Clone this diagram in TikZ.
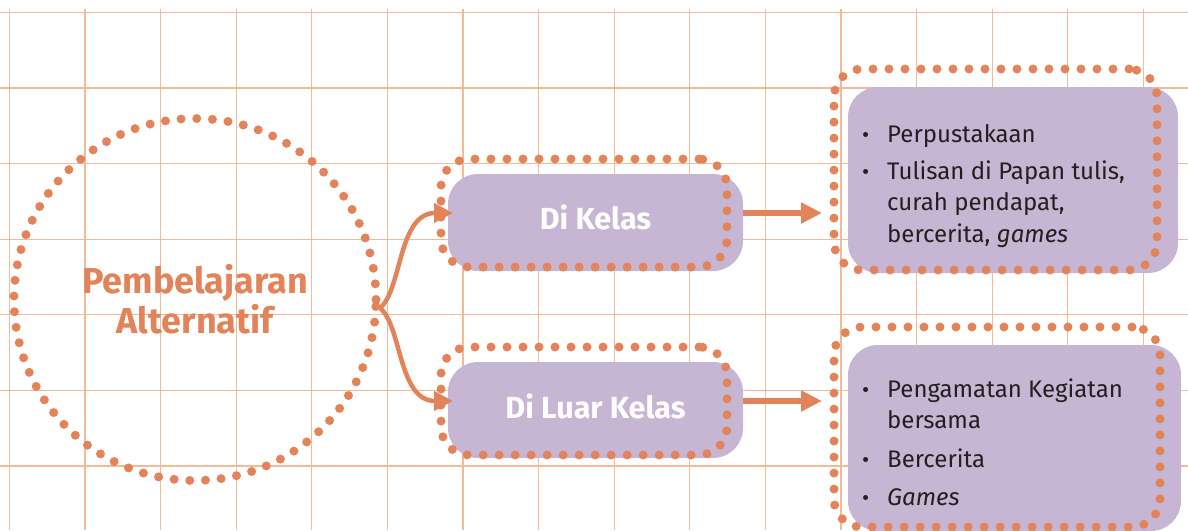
\documentclass[tikz,border=0pt]{standalone}
\usepackage{fontspec}
\setmainfont{Fira Sans}
\usetikzlibrary{positioning, arrows.meta, calc}
\definecolor{gridline}{HTML}{F2BA96}
\definecolor{dotorange}{HTML}{E2835A}
\definecolor{boxlilac}{HTML}{C6B6D3}
\definecolor{inkdark}{HTML}{231F20}
\newcommand{\dotmark}{{\fontsize{22}{22}\selectfont\textbullet}}

\begin{document}
\begin{tikzpicture}[x=1pt, y=-1pt,
    % Node styles
    hub/.style={circle, draw=dotorange, line width=9pt, line cap=round, dash pattern=on 0pt off 15.7pt, minimum size=362pt, inner sep=0pt, outer sep=0pt, text=dotorange, align=center, font=\bfseries\fontsize{36}{40}\selectfont},
    place/.style={rectangle, rounded corners=30pt, fill=boxlilac, inner sep=0pt, outer sep=0pt},
    rim/.style={rectangle, rounded corners=28pt, draw=dotorange, line width=9pt, line cap=round, dash pattern=on 0pt off 16pt, inner sep=0pt, outer sep=0pt},
    tagtext/.style={text=white, font=\bfseries\fontsize{30.5}{34}\selectfont},
    notes/.style={text=inkdark, inner sep=0pt, anchor=north west, font=\fontsize{24}{31.5}\selectfont},
    % Edge styles
    branch/.style={-{Triangle[length=19pt, width=19pt]}, line width=4.5pt, draw=dotorange},
    flow/.style={-{Triangle[length=21pt, width=20pt]}, line width=5.5pt, draw=dotorange}
]
\useasboundingbox (0,0) rectangle (1188,530);
% Grid
\foreach \k in {0,...,15}
  \draw[gridline, line width=1.2pt] (9.3+75.6*\k, 9) -- (9.3+75.6*\k, 530);
\foreach \k in {0,...,6}
  \draw[gridline, line width=1.2pt] (0, 12.3+75.6*\k) -- (1188, 12.3+75.6*\k);
% Centre circle
\node[hub] (core) at (195, 299.5) {Pembelajaran\\Alternatif};
% Place boxes
\node[place, minimum width=295pt, minimum height=97pt] (kelas) at (595.5, 222.5) {};
\node[place, minimum width=295pt, minimum height=96pt] (luar) at (595.5, 410) {};
\node[place, minimum width=330pt, minimum height=186pt] (ket) at (1013, 180) {};
\node[place, minimum width=333pt, minimum height=186pt] (luarket) at (1014.5, 438) {};
% Dotted rims
\node[rim, minimum width=286pt, minimum height=108pt] (kelasrim) at (584, 213) {};
\node[rim, minimum width=286pt, minimum height=108pt] (luarrim) at (584, 401) {};
\node[rim, minimum width=323pt, minimum height=201pt] (ketrim) at (995.5, 169.5) {};
\node[rim, minimum width=326pt, minimum height=200pt] (luarketrim) at (997, 427) {};
% Labels
\node[tagtext] (kelastext) at ([yshift=5pt]kelas.center) {Di Kelas};
\node[tagtext] (luartext) at ([yshift=4pt]luar.center) {Di Luar Kelas};
\node[notes] (ketlist) at (862, 120) {\begin{tabular}{@{}p{25pt}@{}l@{}}
  \dotmark & Perpustakaan\\[5.5pt]
  \dotmark & Tulisan di Papan tulis,\\
           & curah pendapat,\\
           & bercerita, \textit{games}
\end{tabular}};
\node[notes] (luarketlist) at (862, 375) {\begin{tabular}{@{}p{25pt}@{}l@{}}
  \dotmark & Pengamatan Kegiatan\\
           & bersama\\[7pt]
  \dotmark & Bercerita\\[7pt]
  \dotmark & \textit{Games}
\end{tabular}};
% Connectors
\coordinate (fork) at (380, 308);
\draw[branch] (fork) .. controls (402, 290) and (398, 213) .. ([xshift=12pt]kelasrim.west);
\draw[branch] (fork) .. controls (402, 326) and (398, 401) .. ([xshift=12pt]luarrim.west);
\draw[flow] (kelas.east |- kelasrim.east) -- ($(ketrim.west |- kelasrim.east)+(-12,0)$);
\draw[flow] (luar.east |- luarrim.east) -- ($(luarketrim.west |- luarrim.east)+(-12,0)$);
\end{tikzpicture}
\end{document}
